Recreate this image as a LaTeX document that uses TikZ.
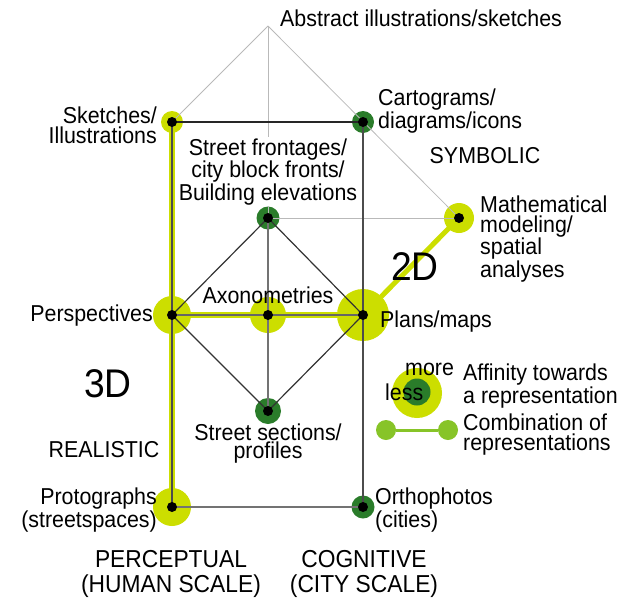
\documentclass[tikz,border=0pt]{standalone}
\usepackage{fontspec}
\setmainfont{Liberation Sans}[FakeStretch=0.93]
\definecolor{yg}{RGB}{204,222,0}
\definecolor{dg}{RGB}{42,124,42}
\definecolor{lg}{RGB}{135,196,40}
\begin{document}
\begin{tikzpicture}[x=1pt,y=-1pt,
  lbl/.style={inner sep=0pt, font=\fontsize{23}{19.7}\selectfont},
  scalelbl/.style={inner sep=0pt, font=\fontsize{24.5}{25}\selectfont, align=center},
  big/.style={inner sep=0pt, font=\fontsize{40}{40}\selectfont},
  halo/.style={circle, inner sep=0pt, fill=#1},
  thinline/.style={draw=gray!55, line width=0.8pt},
  combo/.style={draw=yg, line width=6pt},
  dark/.style={draw=black!80, line width=1.2pt},
]
\useasboundingbox (0,0) rectangle (635,600);
% halos
\coordinate (A) at (268,26);
\node[halo=yg, minimum size=22pt] (sk) at (172,122) {};
\node[halo=dg, minimum size=22pt] (ca) at (363,122) {};
\node[halo=dg, minimum size=23pt] (sf) at (268,218) {};
\node[halo=yg, minimum size=30pt] (ma) at (459,218) {};
\node[halo=yg, minimum size=38pt] (pe) at (172,315) {};
\node[halo=yg, minimum size=36pt] (ax) at (268,315) {};
\node[halo=yg, minimum size=52pt] (pl) at (363,315) {};
\node[halo=dg, minimum size=26pt] (ss) at (268,411) {};
\node[halo=yg, minimum size=38pt] (pr) at (172,507) {};
\node[halo=dg, minimum size=23pt] (or) at (363,507) {};
% thin construction lines
\draw[thinline] (A) -- (sk.center);
\draw[thinline] (A) -- (ma.center);
\draw[thinline] (A) -- (sf.center);
\draw[thinline] (sf.center) -- (ma.center);
% combinations
\draw[combo] (sk.center) -- (pr.center);
\draw[combo] (pe.center) -- (pl.center);
\draw[combo, line width=5pt] (pl.center) -- (ma.center);
% frame
\draw[draw=black!85, line width=1.3pt] (sk.center) -- (ca.center);
\draw[draw=black!70, line width=1.2pt] (ca.center) -- (or.center);
\draw[draw=black!55, line width=1.3pt] (pr.center) -- (or.center);
\draw[draw=black!70, line width=1.3pt] (sk.center) -- (pr.center);
\draw[draw=black!60, line width=1.5pt] (pe.center) -- (pl.center);
% diamond
\draw[dark] (sf.center) -- (pe.center) -- (ss.center) -- (pl.center) -- cycle;
\draw[draw=black!55, line width=2pt] (sf.center) -- (ss.center);
% black dots
\foreach \n in {sk,ca,sf,ma,pe,ax,pl,ss,pr,or} \fill (\n.center) circle (5pt);
% labels
\node[lbl, anchor=base west] (tA) at (280,26) {Abstract illustrations/sketches};
\node[lbl, anchor=base east, align=right] (tsk) at (157,143) {Sketches/\\Illustrations};
\node[lbl, anchor=base west, align=left, font=\fontsize{23}{18.5}\selectfont] (tca) at (378,128) {Cartograms/\\diagrams/icons};
\node[lbl, anchor=base] (tsym) at (485,163) {SYMBOLIC};
\node[lbl, anchor=base, align=center, fill=white, inner sep=1.5pt, font=\fontsize{23}{19}\selectfont] (tsf) at (268,200) {Street frontages/\\city block fronts/\\Building elevations};
\node[lbl, anchor=base west, align=left] (tma) at (480,277) {Mathematical\\modeling/\\spatial\\analyses};
\node[big, anchor=base] (t2d) at (415,280) {2D};
\node[lbl, anchor=base east] (tpe) at (153,321) {Perspectives};
\node[lbl, anchor=base] (tax) at (268,303) {Axonometries};
\node[lbl, anchor=base west] (tpl) at (380,327) {Plans/maps};
\node[big, anchor=base] (t3d) at (108,397) {3D};
\node[lbl, anchor=base] (treal) at (104,457) {REALISTIC};
\node[lbl, anchor=base, align=center, font=\fontsize{23}{18}\selectfont] (tss) at (268,458) {Street sections/\\profiles};
\node[lbl, anchor=base east, align=right, font=\fontsize{23}{20}\selectfont] (tpr) at (157,527) {Protographs\\(streetspaces)};
\node[lbl, anchor=base west, align=left, font=\fontsize{23}{20}\selectfont] (tor) at (375,527) {Orthophotos\\(cities)};
\node[scalelbl, anchor=base] (tperc) at (171,592) {PERCEPTUAL\\(HUMAN SCALE)};
\node[scalelbl, anchor=base] (tcog) at (364,592) {COGNITIVE\\(CITY SCALE)};
% legend
\node[halo=yg, minimum size=50pt] (lbig) at (417,393) {};
\node[halo=dg, minimum size=27pt] (lsmall) at (417,392) {};
\node[lbl, anchor=base west] (tmore) at (405,375) {more};
\node[lbl, anchor=base west] (tless) at (385,400) {less};
\node[lbl, anchor=base west, align=left] (taff) at (463,403) {Affinity towards\\a representation};
\node[halo=lg, minimum size=20pt] (c1) at (386,430) {};
\node[halo=lg, minimum size=20pt] (c2) at (448,430) {};
\draw[draw=lg, line width=3pt] (c1) -- (c2);
\node[lbl, anchor=base west, align=left] (tcomb) at (463,450) {Combination of\\representations};
\end{tikzpicture}
\end{document}
